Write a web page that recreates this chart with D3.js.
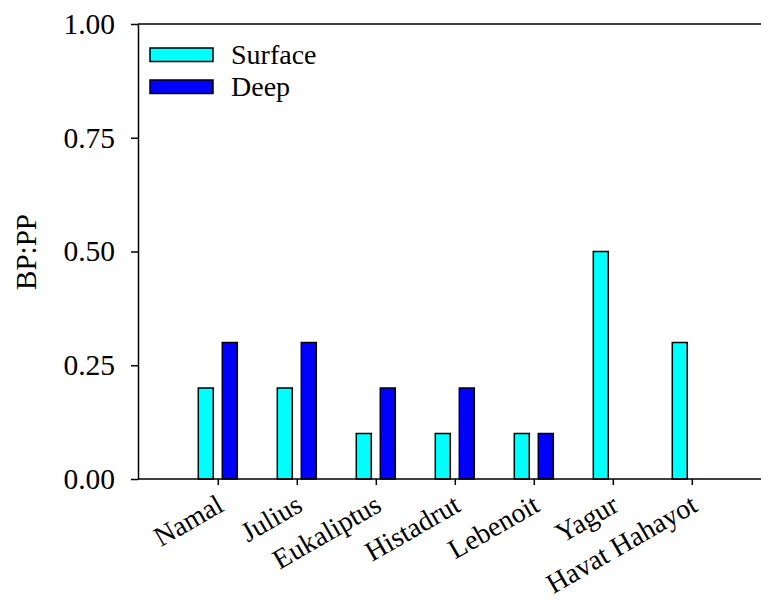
<!DOCTYPE html>
<html>
<head>
<meta charset="utf-8">
<script src="https://cdn.jsdelivr.net/npm/d3@7"></script>
<style>
  html, body { margin: 0; padding: 0; background: #fff; }
</style>
</head>
<body>
<script>
const sites = ["Namal", "Julius", "Eukaliptus", "Histadrut", "Lebenoit", "Yagur", "Havat Hahayot"];
const seriesNames = ["Surface", "Deep"];
const surfaceValues = [0.2, 0.2, 0.1, 0.1, 0.1, 0.5, 0.3];
const deepValues = [0.3, 0.3, 0.2, 0.2, 0.1, null, null];
const yTicks = [0, 0.25, 0.5, 0.75, 1.0];

const width = 761;
const height = 601;
const plot = { left: 138, right: 761, top: 24, bottom: 479 };
const font = "'Liberation Serif', 'Times New Roman', serif";

const colors = {
  Surface: "#00FFFF",
  Deep: "#0000FF",
  text: "#000000",
};

const svg = d3.select("body")
  .append("svg")
  .attr("width", width)
  .attr("height", height)
  .attr("viewBox", `0 0 ${width} ${height}`);

svg.append("rect").attr("width", width).attr("height", height).attr("fill", "#fff");

const x = d3.scaleBand()
  .domain(sites)
  .range([178.8, 178.8 + 79 * sites.length])
  .padding(0);

const xInner = d3.scaleBand()
  .domain(seriesNames)
  .range([-20, 19])
  .paddingInner(0.375)
  .paddingOuter(0);

const y = d3.scaleLinear().domain([0, 1]).range([plot.bottom, plot.top]);

const rows = sites.map((site, i) => ({
  site,
  values: [
    { key: "Surface", value: surfaceValues[i] },
    { key: "Deep", value: deepValues[i] },
  ].filter((d) => d.value != null),
}));

// bars
const groups = svg.append("g")
  .selectAll("g")
  .data(rows)
  .join("g")
  .attr("transform", (d) => `translate(${x(d.site) + x.bandwidth() / 2},0)`);

groups.selectAll("rect")
  .data((d) => d.values)
  .join("rect")
  .attr("x", (d) => xInner(d.key))
  .attr("y", (d) => y(d.value))
  .attr("width", xInner.bandwidth())
  .attr("height", (d) => y(0) - y(d.value))
  .attr("fill", (d) => colors[d.key])
  .attr("stroke", "#000")
  .attr("stroke-width", 1.5);

// top frame line
svg.append("line")
  .attr("x1", plot.left).attr("x2", plot.right)
  .attr("y1", plot.top).attr("y2", plot.top)
  .attr("stroke", "#000").attr("stroke-width", 1.5);

// y axis
svg.append("g")
  .attr("transform", `translate(${plot.left},0)`)
  .call(d3.axisLeft(y).tickValues(yTicks).tickFormat(d3.format(".2f")).tickSizeInner(7).tickSizeOuter(0).tickPadding(16))
  .call((g) => g.select(".domain").attr("stroke", "#000").attr("stroke-width", 1.5))
  .call((g) => g.selectAll(".tick line").attr("stroke", "#000").attr("stroke-width", 1.5))
  .call((g) => g.selectAll("text")
    .attr("fill", colors.text)
    .attr("font-family", font)
    .attr("font-size", 29.5));

// x axis
const xAxis = svg.append("g")
  .attr("transform", `translate(0,${plot.bottom})`)
  .call(d3.axisBottom(x).tickSizeInner(6).tickSizeOuter(0))
  .call((g) => g.select(".domain").attr("d", `M${plot.left},0H${plot.right}`).attr("stroke", "#000").attr("stroke-width", 1.5))
  .call((g) => g.selectAll(".tick line").attr("stroke", "#000").attr("stroke-width", 1.5));

xAxis.selectAll(".tick text")
  .attr("fill", colors.text)
  .attr("font-family", font)
  .attr("font-size", 28)
  .attr("text-anchor", "end")
  .attr("dy", null)
  .attr("y", null)
  .attr("transform", "translate(7,31) rotate(-30)");

// y axis title
svg.append("text")
  .attr("transform", `translate(36,252) rotate(-90)`)
  .attr("text-anchor", "middle")
  .attr("fill", colors.text)
  .attr("font-family", font)
  .attr("font-size", 29)
  .text("BP:PP");

// legend
const legend = svg.append("g");
seriesNames.forEach((name, i) => {
  const row = legend.append("g").attr("transform", `translate(150,${48 + i * 32})`);
  row.append("rect")
    .attr("width", 63)
    .attr("height", 13.5)
    .attr("fill", colors[name])
    .attr("stroke", "#000")
    .attr("stroke-width", 1.5);
  row.append("text")
    .attr("x", 81)
    .attr("y", 15.5)
    .attr("fill", colors.text)
    .attr("font-family", font)
    .attr("font-size", 28)
    .text(name);
});
</script>
</body>
</html>
